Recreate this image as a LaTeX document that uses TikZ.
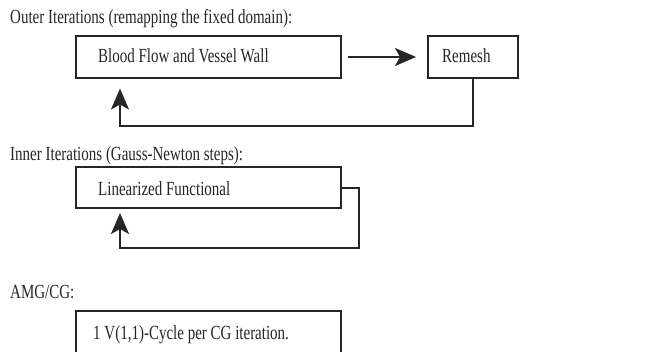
\documentclass[tikz,border=0pt]{standalone}
\usepackage{fontspec}
\setmainfont{Liberation Serif}[FakeStretch=0.75]
\usetikzlibrary{arrows.meta}
\tikzset{
  box/.style={draw=black!85, line width=2pt, rectangle, inner sep=0pt},
  txt/.style={inner sep=0pt, anchor=base west, font=\fontsize{20pt}{23pt}\selectfont, text=black!85},
  conn/.style={draw=black!85, line width=2pt},
  tip/.style={-{Stealth[length=21pt,width=18pt,inset=5pt]}},
}
\begin{document}
\begin{tikzpicture}[x=1pt,y=1pt]
\clip (0,0) rectangle (651,-351);
\fill[white] (0,0) rectangle (651,-351);
% Outer
\node[txt] (t1) at (10,-23) {Outer Iterations (remapping the fixed domain):};
\node[box, minimum width=265pt, minimum height=42pt] (b1) at (208.5,-57) {};
\node[txt] (b1t) at (98,-62) {Blood Flow and Vessel Wall};
\node[box, minimum width=90pt, minimum height=42pt] (rm) at (473,-57) {};
\node[txt] (rmt) at (442,-62) {Remesh};
\draw[conn, tip, shorten <=6pt, shorten >=11pt] (b1.east) -- (rm.west);
\draw[conn, tip] (rm.south) -- ++(0,-47) -| ([xshift=-88.5pt,yshift=-9.5pt]b1.south);
% Inner
\node[txt] (t2) at (10,-160) {Inner Iterations (Gauss-Newton steps):};
\node[box, minimum width=265pt, minimum height=41pt] (b2) at (208.5,-187.5) {};
\node[txt] (b2t) at (98,-195.5) {Linearized Functional};
\draw[conn, tip] (b2.east) -- ++(17,0) -- ++(0,-60.8) -| ([xshift=-88.5pt,yshift=-4pt]b2.south);
% AMG
\node[txt] (t3) at (10,-298) {AMG/CG:};
\node[box, minimum width=265pt, minimum height=60pt] (b3) at (208.5,-341) {};
\node[txt] (b3t) at (93,-339) {1 V(1,1)-Cycle per CG iteration.};
\end{tikzpicture}
\end{document}
